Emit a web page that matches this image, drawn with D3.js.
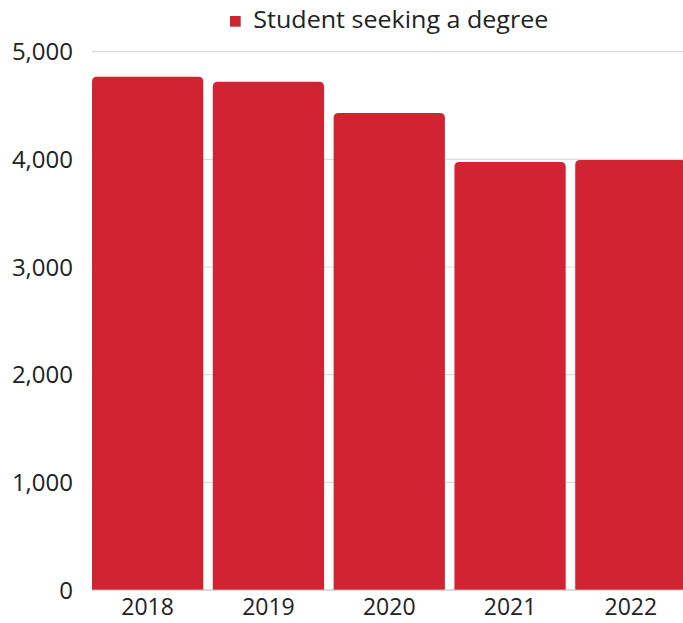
<!DOCTYPE html>
<html lang="en">
<head>
    <meta charset="UTF-8">
    <title>Student seeking a degree</title>
    <script src="https://d3js.org/d3.v7.min.js"></script>
    <style>
        body { margin: 0; background: #fff; }
        svg { display: block; font-family: "Open Sans", "DejaVu Sans", sans-serif; }
        .tick-label { font-size: 24px; fill: #222; }
        .x-label { font-size: 23px; fill: #222; }
        .legend-label { font-size: 24px; fill: #222; }
    </style>
</head>
<body>
    <svg width="683" height="623"></svg>
    <script>
        // data
        const years = ["2018", "2019", "2020", "2021", "2022"];
        const students = [4768, 4720, 4430, 3975, 3993];
        const yTicks = [0, 1000, 2000, 3000, 4000, 5000];
        const seriesName = "Student seeking a degree";

        const barColor = "#d12331";

        const svg = d3.select("svg");

        const x = d3.scaleBand()
            .domain(years)
            .range([92, 686.5])
            .paddingInner(0.079)
            .paddingOuter(0);

        const y = d3.scaleLinear()
            .domain([0, 5000])
            .range([590, 51.7]);

        // grid lines
        svg.append("g")
            .selectAll("line")
            .data(yTicks.filter(d => d > 0))
            .enter().append("line")
            .attr("x1", 91.7)
            .attr("x2", 683)
            .attr("y1", d => y(d))
            .attr("y2", d => y(d))
            .attr("stroke", "#dcdcdc")
            .attr("stroke-width", 1.2);

        // y labels
        svg.append("g")
            .selectAll("text")
            .data(yTicks)
            .enter().append("text")
            .attr("class", "tick-label")
            .attr("x", 73)
            .attr("y", d => y(d))
            .attr("dy", "0.36em")
            .attr("text-anchor", "end")
            .text(d => d3.format(",")(d));

        // bars, rounded top corners
        const r = 5;
        svg.append("g")
            .selectAll("path")
            .data(years.map((yr, i) => ({ year: yr, value: students[i] })))
            .enter().append("path")
            .attr("fill", barColor)
            .attr("d", d => {
                const x0 = x(d.year), w = x.bandwidth();
                const y0 = y(d.value), y1 = y(0);
                return `M${x0},${y1}V${y0 + r}Q${x0},${y0} ${x0 + r},${y0}` +
                       `H${x0 + w - r}Q${x0 + w},${y0} ${x0 + w},${y0 + r}V${y1}Z`;
            });

        // baseline
        svg.append("line")
            .attr("x1", 91.7).attr("x2", 683)
            .attr("y1", y(0)).attr("y2", y(0))
            .attr("stroke", "#b4b4b4")
            .attr("stroke-width", 1.2);

        // x labels
        svg.append("g")
            .selectAll("text")
            .data(years)
            .enter().append("text")
            .attr("class", "x-label")
            .attr("x", d => x(d) + x.bandwidth() / 2)
            .attr("y", 615)
            .attr("text-anchor", "middle")
            .text(d => d);

        // legend
        const legend = svg.append("g");
        legend.append("rect")
            .attr("x", 230).attr("y", 16)
            .attr("width", 10.7).attr("height", 10.7)
            .attr("fill", barColor);
        legend.append("text")
            .attr("class", "legend-label")
            .attr("x", 253.3)
            .attr("y", 28.3)
            .attr("textLength", 295)
            .attr("lengthAdjust", "spacingAndGlyphs")
            .text(seriesName);
    </script>
</body>
</html>
